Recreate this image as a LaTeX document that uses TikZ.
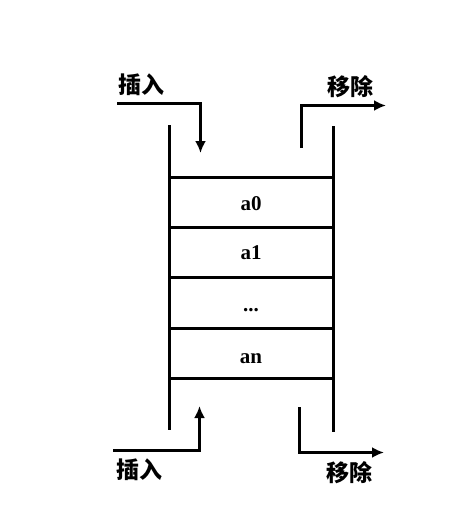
\documentclass[tikz,border=0pt]{standalone}
\usepackage{fontspec}
\setmainfont{Liberation Serif}
\newfontfamily\cjk{Noto Sans CJK SC}
\usetikzlibrary{arrows.meta}

\begin{document}
\begin{tikzpicture}[y=1pt, x=1pt, yscale=-1, inner sep=0pt, outer sep=0pt,
  wall/.style={draw=black,line width=3pt},
  cellline/.style={draw=black,line width=3pt},
  flow/.style={draw=black,line width=3pt,line join=miter,-{Latex[length=12pt,width=11pt]}},
  cell/.style={anchor=base,font=\bfseries\fontsize{21}{21}\selectfont},
  op/.style={font=\cjk\bfseries\fontsize{23}{23}\selectfont}]
\useasboundingbox (0,0) rectangle (471,512);
% the two walls of the stack
\path[wall] (169.5,125) -- (169.5,430);
\path[wall] (333.5,126) -- (333.5,432);
\foreach \y in {177.5,227.5,277.5,328.5,378.5}
  \path[cellline] (169.5,\y) -- (333.5,\y);
% cells
\path (251,210) node[cell] (a0) {a0};
\path (251,259) node[cell] (a1) {a1};
\path (251,311) node[cell] (dots) {...};
\path (251,363) node[cell] (an) {an};
% insert / remove, top
\node[op] (text_in_top) at (141,85) {插入};
\node[op] (text_out_top) at (350,87) {移除};
\coordinate (in_top) at (117,103.5);
\coordinate (in_top_end) at (200.5,153);
\coordinate (out_top) at (301.5,148);
\path[flow] (in_top) -| (in_top_end);
\coordinate (out_top_end) at (386,105.5);
\path[flow] (out_top) |- (out_top_end);
% insert / remove, bottom
\node[op] (text_in_bot) at (139,470) {插入};
\node[op] (text_out_bot) at (349,473) {移除};
\coordinate (in_bot) at (113,450.5);
\coordinate (in_bot_end) at (199.5,406);
\path[flow] (in_bot) -| (in_bot_end);
\coordinate (out_bot) at (299.5,407);
\coordinate (out_bot_end) at (384,452.5);
\path[flow] (out_bot) |- (out_bot_end);
\end{tikzpicture}
\end{document}
